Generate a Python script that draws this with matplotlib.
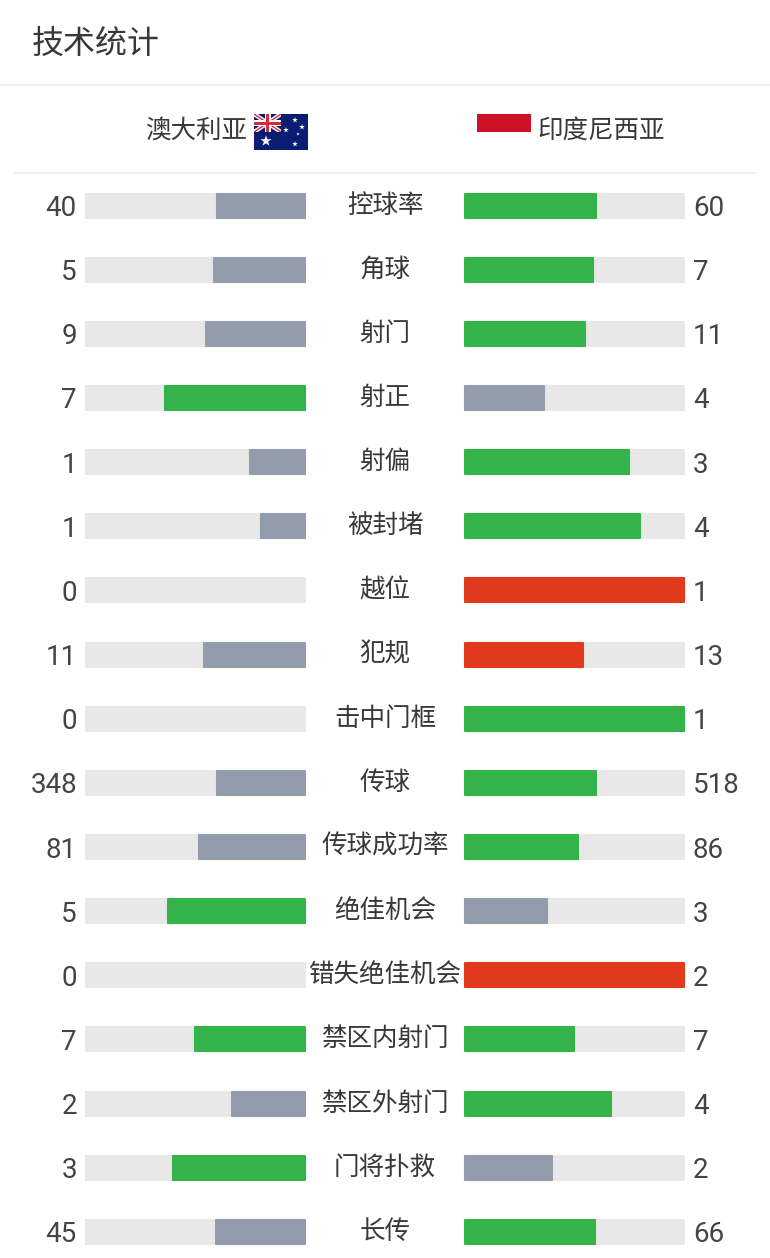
import matplotlib
matplotlib.use('AGG')
import matplotlib.pyplot as plt
from matplotlib.patches import Rectangle

plt.rcParams['font.family'] = ['Noto Sans CJK SC', 'DejaVu Sans']

title = '技术统计'
team_left = '澳大利亚'
team_right = '印度尼西亚'

stats = ['控球率', '角球', '射门', '射正', '射偏', '被封堵', '越位', '犯规', '击中门框',
         '传球', '传球成功率', '绝佳机会', '错失绝佳机会', '禁区内射门', '禁区外射门', '门将扑救', '长传']
left_values = [40, 5, 9, 7, 1, 1, 0, 11, 0, 348, 81, 5, 0, 7, 2, 3, 45]
right_values = [60, 7, 11, 4, 3, 4, 1, 13, 1, 518, 86, 3, 2, 7, 4, 2, 66]

# g = green, s = grey, r = red
left_colors = ['s', 's', 's', 'g', 's', 's', 's', 's', 's', 's', 's', 'g', 's', 'g', 's', 'g', 's']
right_colors = ['g', 'g', 'g', 's', 'g', 'g', 'r', 'r', 'g', 'g', 'g', 's', 'r', 'g', 'g', 's', 'g']

palette = {'g': '#34b34a', 's': '#939cad', 'r': '#e0391e'}
TRACK = '#e8e8e8'
TEXT = '#383838'
RULE = '#eeeeee'

W, H = 770, 1258
ROW_TOP = 205.5
ROW_STEP = 64.15
BAR_H = 24
LEFT_END = 305
RIGHT_START = 464.5
BAR_LEN = 219.5

fig = plt.figure(figsize=(W / 100, H / 100), dpi=100)
ax = fig.add_axes([0, 0, 1, 1])
ax.set_xlim(0, W)
ax.set_ylim(H, 0)
ax.axis('off')


def rounded_bar(y, start, length, color, zorder):
    bars = ax.barh(y, length, left=start, height=BAR_H, color=color, edgecolor=color,
                   linewidth=1.5, zorder=zorder)
    for b in bars:
        b.set_joinstyle('round')


for i, stat in enumerate(stats):
    y = ROW_TOP + i * ROW_STEP
    total = left_values[i] + right_values[i]
    left_len = BAR_LEN * left_values[i] / total
    right_len = BAR_LEN * right_values[i] / total

    rounded_bar(y, LEFT_END - BAR_LEN, BAR_LEN, TRACK, 1)
    rounded_bar(y, RIGHT_START, BAR_LEN, TRACK, 1)
    if left_len > 0:
        rounded_bar(y, LEFT_END - left_len, left_len, palette[left_colors[i]], 2)
    if right_len > 0:
        rounded_bar(y, RIGHT_START, right_len, palette[right_colors[i]], 2)

    ax.text(77, y, str(left_values[i]), ha='right', va='center_baseline', fontsize=20,
            color='#444444', family=['Roboto', 'DejaVu Sans'])
    ax.text(693, y, str(right_values[i]), ha='left', va='center_baseline', fontsize=20,
            color='#444444', family=['Roboto', 'DejaVu Sans'])
    ax.text(385, y, stat, ha='center', va='center', fontsize=18.4,
            color=TEXT, fontweight='light')

# header
ax.text(32, 44, title, ha='left', va='center', fontsize=23, color=TEXT, fontweight='light')
ax.plot([0, W], [85, 85], color=RULE, lw=1.5)
ax.plot([15, 755], [173, 173], color=RULE, lw=1.5)
ax.text(247, 131, team_left, ha='right', va='center', fontsize=18.4, color=TEXT, fontweight='light')
ax.text(537, 131, team_right, ha='left', va='center', fontsize=18.4, color=TEXT, fontweight='light')

# australian flag
ax.add_patch(Rectangle((254, 114), 54, 36, facecolor='#0c1c72', lw=0, zorder=3))
canton = Rectangle((254, 114), 27, 18, transform=ax.transData)
for x0, y0, x1, y1 in [(254, 114, 281, 132), (254, 132, 281, 114)]:
    line, = ax.plot([x0, x1], [y0, y1], color='white', lw=3, zorder=4, solid_capstyle='butt')
    line.set_clip_path(canton)
    line, = ax.plot([x0, x1], [y0, y1], color='#d8283c', lw=1, zorder=5, solid_capstyle='butt')
    line.set_clip_path(canton)
ax.add_patch(Rectangle((264.5, 114), 6, 18, facecolor='white', lw=0, zorder=6))
ax.add_patch(Rectangle((254, 120), 27, 6, facecolor='white', lw=0, zorder=6))
ax.add_patch(Rectangle((266, 114), 3, 18, facecolor='#d8283c', lw=0, zorder=7))
ax.add_patch(Rectangle((254, 121.5), 27, 3, facecolor='#d8283c', lw=0, zorder=7))
ax.scatter([266, 295, 295, 286, 302, 298], [141, 120, 144, 130, 127, 134],
           s=[70, 18, 18, 18, 18, 6], marker='*', color='white', linewidths=0, zorder=8)

# indonesian flag, only the red half shows on the white page
ax.add_patch(Rectangle((477, 114), 54, 18, facecolor='#ce1126', lw=0, zorder=3))

fig.savefig('out.png', dpi=100, facecolor='white')
